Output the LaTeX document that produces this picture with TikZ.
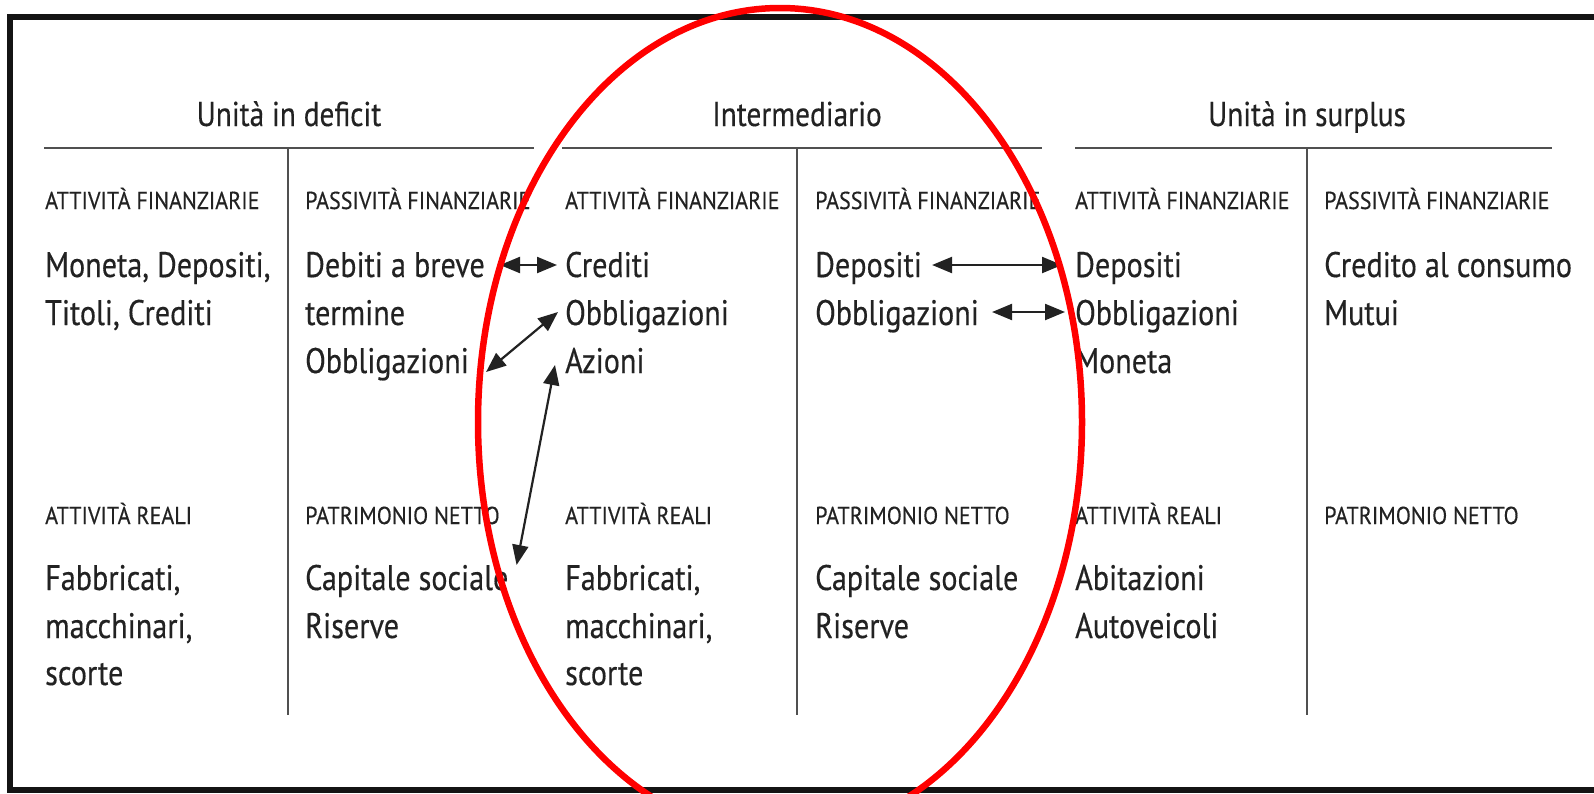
\documentclass[tikz,border=0pt]{standalone}
\usepackage{fontspec}
\setmainfont{PT Sans}[FakeStretch=0.85,FakeBold=0.35]
\newfontfamily\capfont{PT Sans}[FakeStretch=0.9,FakeBold=0.3]
\usetikzlibrary{arrows.meta}
\definecolor{txt}{HTML}{222222}
\definecolor{rulec}{HTML}{505050}
\begin{document}
\begin{tikzpicture}[x=1pt,y=-1pt,
  body/.style={anchor=base west,inner sep=0pt,text=txt,font=\fontsize{35.5}{48}\selectfont},
  caph/.style={anchor=base west,inner sep=0pt,text=txt,font=\capfont\fontsize{24.5}{28}\selectfont},
  title/.style={anchor=base,inner sep=0pt,text=txt,font=\fontsize{34.5}{40}\selectfont},
  rulel/.style={draw=rulec,line width=2.2pt},
  link/.style={draw=txt,line width=2.2pt,{Triangle[length=20pt,width=16pt]}-{Triangle[length=20pt,width=16pt]}},
  frame/.style={draw=black!92,line width=6pt},
  oval/.style={draw=red,line width=6.5pt}]
\useasboundingbox (0,0) rectangle (1594,793);
\begin{scope}
\clip (0,0) rectangle (1594,793);
\fill[white] (0,0) rectangle (1594,793);
\draw[frame] (10,17) rectangle (1640,790);

% titles
\node[title] (t1) at (289,126) {Unità in deficit};
\node[title] (t2) at (797,126) {Intermediario};
\node[title] (t3) at (1307,126) {Unità in surplus};

% rules
\draw[rulel] (44,148) -- (534,148);
\draw[rulel] (562,148) -- (1042,148);
\draw[rulel] (1075,148) -- (1552,148);
\draw[rulel] (288,148) -- (288,715);
\draw[rulel] (797,148) -- (797,715);
\draw[rulel] (1307,148) -- (1307,715);

% column 1
\node[caph] (h1a) at (45,209) {ATTIVITÀ FINANZIARIE};
\node[body] (c1a) at (45,277) {Moneta, Depositi,};
\node[body] (c1b) at (45,325) {Titoli, Crediti};
\node[caph] (h1b) at (45,524) {ATTIVITÀ REALI};
\node[body] (c1c) at (45,590) {Fabbricati,};
\node[body] (c1d) at (45,638) {macchinari,};
\node[body] (c1e) at (45,685) {scorte};

% column 2
\node[caph] (h2a) at (305,209) {PASSIVITÀ FINANZIARIE};
\node[body] (deb) at (305,277) {Debiti a breve};
\node[body] (ter) at (305,325) {termine};
\node[body] (obl2) at (305,373) {Obbligazioni};
\node[caph] (h2b) at (305,524) {PATRIMONIO NETTO};
\node[body] (cap2) at (305,590) {Capitale sociale};
\node[body] (ris2) at (305,638) {Riserve};

% column 3
\node[caph] (h3a) at (565,209) {ATTIVITÀ FINANZIARIE};
\node[body] (cred3) at (565,277) {Crediti};
\node[body] (obl3) at (565,325) {Obbligazioni};
\node[body] (az3) at (565,373) {Azioni};
\node[caph] (h3b) at (565,524) {ATTIVITÀ REALI};
\node[body] (c3c) at (565,590) {Fabbricati,};
\node[body] (c3d) at (565,638) {macchinari,};
\node[body] (c3e) at (565,685) {scorte};

% column 4
\node[caph] (h4a) at (815,209) {PASSIVITÀ FINANZIARIE};
\node[body] (dep4) at (815,277) {Depositi};
\node[body] (obl4) at (815,325) {Obbligazioni};
\node[caph] (h4b) at (815,524) {PATRIMONIO NETTO};
\node[body] (cap4) at (815,590) {Capitale sociale};
\node[body] (ris4) at (815,638) {Riserve};

% column 5
\node[caph] (h5a) at (1075,209) {ATTIVITÀ FINANZIARIE};
\node[body] (dep5) at (1075,277) {Depositi};
\node[body] (obl5) at (1075,325) {Obbligazioni};
\node[body] (mon5) at (1075,373) {Moneta};
\node[caph] (h5b) at (1075,524) {ATTIVITÀ REALI};
\node[body] (ab5) at (1075,590) {Abitazioni};
\node[body] (au5) at (1075,638) {Autoveicoli};

% column 6
\node[caph] (h6a) at (1324,209) {PASSIVITÀ FINANZIARIE};
\node[body] (cr6) at (1324,277) {Credito al consumo};
\node[body] (mu6) at (1324,325) {Mutui};
\node[caph] (h6b) at (1324,524) {PATRIMONIO NETTO};

% connectors
\draw[link] ([shift={(15,-12)}]deb.base east) -- ([shift={(-8,-12)}]cred3.base west);
\draw[link] ([shift={(17,-1)}]obl2.base east) -- ([shift={(-7,-13)}]obl3.base west);
\draw[link] ([shift={(8,-25)}]cap2.base east) -- ([shift={(-10,-8)}]az3.base west);
\draw[link] ([shift={(10,-12)}]dep4.base east) -- ([shift={(-13,-12)}]dep5.base west);
\draw[link] ([shift={(13,-13)}]obl4.base east) -- ([shift={(-10,-13)}]obl5.base west);

% red oval
\draw[oval] (780,422) ellipse [x radius=302pt, y radius=414pt];
\end{scope}
\end{tikzpicture}
\end{document}
